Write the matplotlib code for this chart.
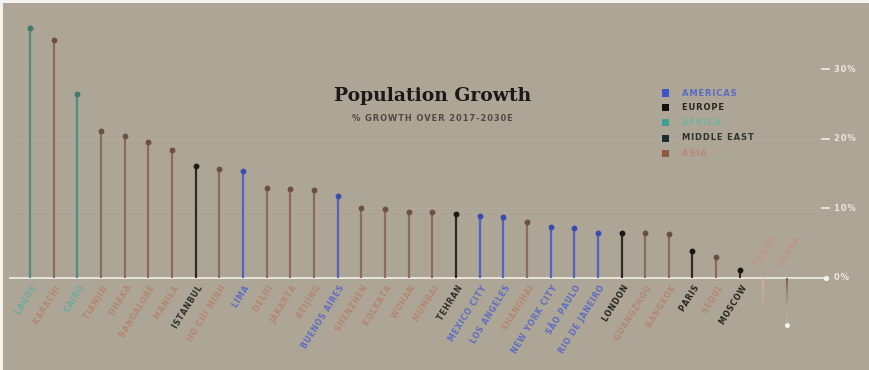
import matplotlib
matplotlib.use("Agg")
import matplotlib.pyplot as plt
from matplotlib.patches import Rectangle
import numpy as np

# --- data -------------------------------------------------------------
cities = ["LAGOS", "KARACHI", "CAIRO", "TIANJIN", "DHAKA", "BANGALORE", "MANILA",
          "ISTANBUL", "HO CHI MINH", "LIMA", "DELHI", "JAKARTA", "BEIJING",
          "BUENOS AIRES", "SHENZHEN", "KOLKATA", "WUHAN", "MUMBAI", "TEHRAN",
          "MEXICO CITY", "LOS ANGELES", "SHANGHAI", "NEW YORK CITY", "SÃO PAULO",
          "RIO DE JANEIRO", "LONDON", "GUANGZHOU", "BANGKOK", "PARIS", "SEOUL",
          "MOSCOW", "TOKYO", "OSAKA"]
growth = [35.9, 34.2, 26.5, 21.2, 20.4, 19.6, 18.4, 16.1, 15.7, 15.4, 13.0, 12.8,
          12.7, 11.8, 10.0, 9.9, 9.5, 9.5, 9.2, 8.9, 8.8, 8.0, 7.4, 7.2, 6.5, 6.4,
          6.4, 6.3, 3.9, 3.0, 1.1, -4.6, -6.7]
regions = ["Africa", "Asia", "Africa", "Asia", "Asia", "Asia", "Asia",
           "Middle East", "Asia", "Americas", "Asia", "Asia", "Asia",
           "Americas", "Asia", "Asia", "Asia", "Asia", "Middle East",
           "Americas", "Americas", "Asia", "Americas", "Americas",
           "Americas", "Europe", "Asia", "Asia", "Europe", "Asia",
           "Europe", "Asia", "Asia"]
legend_regions = ["AMERICAS", "EUROPE", "AFRICA", "MIDDLE EAST", "ASIA"]
y_ticks = [0, 10, 20, 30]
y_tick_labels = ["0%", "10%", "20%", "30%"]

# --- styling ------------------------------------------------------------
BG = "#ada596"
style = {
    "Americas":    dict(line="#5264c2", dot="#3a4cb0", label="#5d6dc4", swatch="#3d55cc"),
    "Europe":      dict(line="#2e2a25", dot="#1a1815", label="#26231f", swatch="#121110"),
    "Africa":      dict(line="#4f8f82", dot="#3f7a6e", label="#6aab9c", swatch="#3ea092"),
    "Middle East": dict(line="#2b2a27", dot="#1c1b19", label="#2f2d2a", swatch="#1d2a2e"),
    "Asia":        dict(line="#8c6b58", dot="#6e5040", label="#b48672", swatch="#8d5a40"),
}
legend_text = {"AMERICAS": "#5a6bc6", "EUROPE": "#2a2723", "AFRICA": "#72b2a3",
               "MIDDLE EAST": "#33322f", "ASIA": "#b98a78"}
legend_keys = ["Americas", "Europe", "Africa", "Middle East", "Asia"]
decline_colors = {"TOKYO": ("#d2b0a0", "#c8a696"), "OSAKA": ("#7e5e4c", "#d9c2b6")}


def spaced(s, sep="\u200a"):
    """Open up letter spacing with hair spaces."""
    return sep.join(s)


W, H = 869, 370
fig = plt.figure(figsize=(W / 100, H / 100), dpi=100, facecolor="#f4f2ee")
ax = fig.add_axes([0, 0, 1, 1])
ax.set_axis_off()

# pixel mapping: first stem at x=30 px, pitch 23.66 px; zero line at y=278 px, 6.957 px per %
pitch, x0 = 23.66, 30.0
ppp, y0 = 6.957, 278.0
ax.set_xlim(-x0 / pitch, (W - x0) / pitch)
ax.set_ylim(-(H - y0) / ppp, y0 / ppp)

# background panel
ax.add_patch(Rectangle((3 / W, 0), 1 - 3 / W, 1 - 3 / H, transform=ax.transAxes,
                       facecolor=BG, edgecolor="none", zorder=0))

yax = ax.get_yaxis_transform()  # x in axes fraction, y in data

# faint gridlines
for t in y_ticks[1:]:
    ax.plot([12 / W, 820 / W], [t, t], transform=yax, color="#b8b1a4", lw=0.6,
            alpha=0.45, zorder=1)

# baseline with end dot
ax.plot([10 / W, 826 / W], [0, 0], transform=yax, color="#efebe3", lw=1.3, zorder=2)
ax.plot([826 / W], [0], transform=yax, marker="o", ms=2.8, color="#f4f1ea", zorder=2)

# right-side tick marks and labels
for t, lab in zip(y_ticks, y_tick_labels):
    if t != 0:
        ax.plot([822 / W, 829 / W], [t, t], transform=yax, color="#ece8e0", lw=1.3,
                zorder=2)
    ax.text(834 / W, t, spaced(lab), transform=yax, ha="left", va="center",
            fontsize=6, fontweight="bold", color="#ece8e0", zorder=3)

# stems
for i, (c, v, r) in enumerate(zip(cities, growth, regions)):
    s = style[r]
    if v >= 0:
        ax.plot([i, i], [0, v], color=s["line"], lw=1.6, solid_capstyle="butt", zorder=3)
        ax.plot([i], [v], marker="o", ms=3.2, color=s["dot"], zorder=4)
        ax.text(i + 0.05, -0.85, spaced(c), ha="right", va="top", rotation=58,
                rotation_mode="anchor", fontsize=5.6, fontweight="bold",
                color=s["label"], zorder=4)
    else:
        # fading stem for declines: colour blends from top colour to bottom colour
        n = 40
        edges = np.linspace(0, v, n + 1)
        c_top, c_bot = (np.array(matplotlib.colors.to_rgb(h)) for h in decline_colors[c])
        for k in range(n):
            f = k / n
            col = c_top * (1 - f) + c_bot * f
            a = 1.0 - 0.7 * f
            ax.plot([i, i], [edges[k], edges[k + 1]], color=col, lw=1.5,
                    alpha=a, solid_capstyle="butt", zorder=3)
        if c == "OSAKA":
            ax.plot([i], [v], marker="o", ms=2.6, color="#f6f2ec", zorder=4)
        ax.text(i - 0.1, 1.4, spaced(c), ha="left", va="bottom", rotation=58,
                rotation_mode="anchor", fontsize=5.6, fontweight="bold",
                color="#bd9583", zorder=4)

# title
ax.text(433 / W, 1 - 96 / H, "Population Growth", transform=ax.transAxes,
        ha="center", va="center", fontsize=13.5, fontweight="bold",
        family="DejaVu Serif", color="#1b1917")
ax.text(432 / W, 1 - 118 / H, spaced("% GROWTH OVER 2017-2030E"),
        transform=ax.transAxes, ha="center", va="center", fontsize=6,
        fontweight="bold", color="#4f4a43")

# legend
for k, (name, key) in enumerate(zip(legend_regions, legend_keys)):
    yp = 93 + k * 15
    ax.add_patch(Rectangle((662 / W, 1 - (yp + 3.5) / H), 7 / W, 7 / H,
                           transform=ax.transAxes, facecolor=style[key]["swatch"],
                           edgecolor="none", zorder=4))
    ax.text(682 / W, 1 - yp / H, spaced(name), transform=ax.transAxes, ha="left",
            va="center", fontsize=6, fontweight="bold", color=legend_text[name])

fig.savefig("out.png", dpi=100, facecolor=fig.get_facecolor())
